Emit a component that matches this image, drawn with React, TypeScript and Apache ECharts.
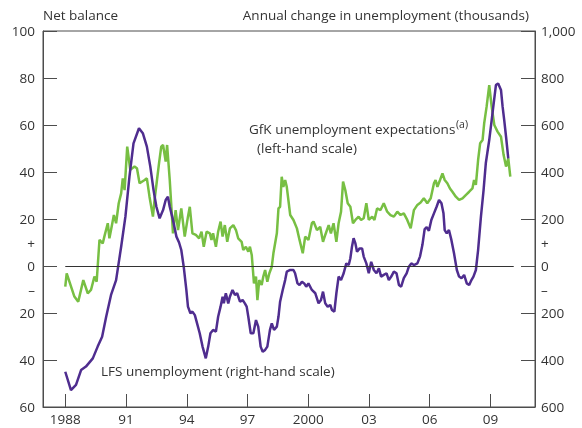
import React, { useEffect, useRef } from "react";
import * as echarts from "echarts";

// GfK unemployment expectations (net balance, left-hand scale)
const gfkYears = [
  1988.0, 1988.07, 1988.45, 1988.64, 1988.89, 1989.11, 1989.27, 1989.44, 1989.55, 1989.69, 1989.85, 1989.93,
  1990.1, 1990.18, 1990.26, 1990.4, 1990.51, 1990.64, 1990.76, 1990.84, 1990.93, 1991.06, 1991.21, 1991.42,
  1991.54, 1991.67, 1991.92, 1992.03, 1992.16, 1992.33, 1992.41, 1992.53, 1992.63, 1992.74, 1992.83, 1992.96,
  1993.03, 1993.16, 1993.32, 1993.45, 1993.57, 1993.73, 1993.9, 1994.06, 1994.15, 1994.28, 1994.45, 1994.61,
  1994.73, 1994.84, 1994.98, 1995.14, 1995.22, 1995.3, 1995.44, 1995.55, 1995.67, 1995.77, 1995.88, 1996.0,
  1996.13, 1996.3, 1996.43, 1996.54, 1996.71, 1996.79, 1996.92, 1997.04, 1997.12, 1997.21, 1997.32, 1997.42,
  1997.49, 1997.58, 1997.7, 1997.78, 1997.87, 1997.98, 1998.08, 1998.2, 1998.28, 1998.45, 1998.53, 1998.61,
  1998.69, 1998.77, 1998.86, 1998.94, 1999.11, 1999.27, 1999.44, 1999.57, 1999.73, 1999.85, 2000.01, 2000.18,
  2000.26, 2000.43, 2000.59, 2000.73, 2000.84, 2001.01, 2001.12, 2001.25, 2001.39, 2001.5, 2001.62, 2001.72,
  2001.83, 2001.95, 2002.08, 2002.21, 2002.33, 2002.49, 2002.61, 2002.74, 2002.87, 2002.99, 2003.16, 2003.27,
  2003.4, 2003.57, 2003.73, 2003.9, 2004.06, 2004.23, 2004.4, 2004.56, 2004.72, 2004.89, 2005.06, 2005.22,
  2005.39, 2005.55, 2005.71, 2005.88, 2006.05, 2006.21, 2006.29, 2006.38, 2006.51, 2006.63, 2006.74, 2006.87,
  2007.0, 2007.12, 2007.29, 2007.45, 2007.62, 2007.78, 2007.95, 2008.11, 2008.19, 2008.28, 2008.39, 2008.49,
  2008.61, 2008.69, 2008.81, 2008.94, 2009.06, 2009.19, 2009.35, 2009.52, 2009.65, 2009.77, 2009.88, 2009.98,
];
const gfkValues = [
  -8.8, -3.1, -13.0, -15.2, -6.0, -11.6, -10.2, -4.5, -6.7, 11.1, 9.6, 12.5,
  18.2, 11.8, 15.3, 21.7, 18.2, 26.7, 30.9, 37.3, 32.3, 50.8, 40.9, 42.3,
  41.6, 35.2, 36.6, 37.3, 29.5, 21.0, 28.1, 36.6, 43.7, 50.8, 51.5, 44.4,
  51.5, 36.6, 13.9, 23.8, 15.3, 24.5, 12.5, 21.0, 25.2, 13.9, 13.2, 11.8,
  14.6, 8.2, 14.6, 13.9, 11.1, 13.9, 8.2, 14.6, 18.9, 12.5, 17.4, 10.3,
  16.0, 17.4, 15.3, 11.8, 10.3, 6.8, 8.2, 6.1, 8.2, 4.7, -7.4, -4.5,
  -14.5, -6.0, -8.1, -4.5, -1.7, -6.7, -3.1, -0.3, 5.4, 13.9, 24.5, 25.2,
  38.0, 33.7, 36.6, 33.7, 21.7, 19.6, 16.0, 11.1, 5.4, 12.5, 11.1, 18.2,
  18.9, 15.3, 16.7, 10.3, 13.2, 17.4, 13.9, 18.2, 10.3, 18.2, 23.1, 35.9,
  32.3, 26.7, 25.2, 18.2, 19.6, 21.0, 19.6, 20.3, 26.7, 19.6, 21.0, 19.6,
  24.5, 23.8, 26.7, 23.1, 21.7, 21.0, 23.1, 21.7, 22.4, 19.6, 16.0, 23.8,
  26.0, 27.0, 28.8, 26.7, 28.8, 35.2, 36.6, 33.7, 36.6, 39.4, 36.6, 35.2,
  33.0, 31.6, 29.5, 28.1, 28.8, 30.2, 31.6, 33.0, 36.6, 34.5, 45.1, 52.2,
  53.6, 60.7, 67.8, 77.0, 67.8, 60.0, 57.2, 55.0, 47.2, 42.3, 45.8, 38.0,
];

// LFS unemployment, annual change in thousands (right-hand scale)
const lfsYears = [
  1988.0, 1988.28, 1988.53, 1988.78, 1989.02, 1989.36, 1989.6, 1989.82, 1990.02, 1990.26, 1990.51, 1990.76,
  1990.97, 1991.17, 1991.37, 1991.64, 1991.83, 1992.03, 1992.2, 1992.36, 1992.5, 1992.66, 1992.83, 1992.96,
  1993.07, 1993.16, 1993.32, 1993.49, 1993.62, 1993.73, 1993.85, 1993.98, 1994.06, 1994.18, 1994.28, 1994.4,
  1994.51, 1994.64, 1994.78, 1994.94, 1995.06, 1995.17, 1995.3, 1995.44, 1995.55, 1995.67, 1995.77, 1995.83,
  1995.93, 1996.05, 1996.13, 1996.26, 1996.38, 1996.49, 1996.63, 1996.76, 1996.87, 1996.96, 1997.04, 1997.16,
  1997.29, 1997.42, 1997.53, 1997.65, 1997.75, 1997.87, 1997.98, 1998.11, 1998.2, 1998.31, 1998.45, 1998.53,
  1998.61, 1998.74, 1998.86, 1998.94, 1999.11, 1999.27, 1999.35, 1999.47, 1999.57, 1999.69, 1999.8, 1999.9,
  2000.01, 2000.18, 2000.35, 2000.51, 2000.63, 2000.73, 2000.84, 2000.96, 2001.09, 2001.17, 2001.29, 2001.39,
  2001.5, 2001.62, 2001.75, 2001.88, 2002.0, 2002.08, 2002.16, 2002.24, 2002.33, 2002.41, 2002.54, 2002.66,
  2002.74, 2002.87, 2002.99, 2003.11, 2003.24, 2003.37, 2003.49, 2003.6, 2003.73, 2003.87, 2003.98, 2004.1,
  2004.23, 2004.36, 2004.48, 2004.59, 2004.72, 2004.86, 2004.97, 2005.09, 2005.22, 2005.39, 2005.52, 2005.64,
  2005.75, 2005.85, 2005.96, 2006.08, 2006.21, 2006.34, 2006.46, 2006.58, 2006.68, 2006.74, 2006.84, 2006.95,
  2007.07, 2007.2, 2007.34, 2007.45, 2007.57, 2007.7, 2007.83, 2007.95, 2008.06, 2008.16, 2008.28, 2008.39,
  2008.53, 2008.66, 2008.77, 2008.94, 2009.06, 2009.16, 2009.27, 2009.38, 2009.52, 2009.6, 2009.68, 2009.77,
  2009.88,
];
const lfsValues = [
  -450, -528, -506, -443, -428, -393, -343, -301, -216, -123, -60, 82,
  210, 380, 522, 586, 565, 508, 423, 323, 252, 203, 238, 281,
  295, 252, 196, 125, 100, 68, -3, -102, -173, -201, -194, -209,
  -244, -286, -343, -393, -343, -286, -272, -279, -216, -173, -131, -159,
  -116, -159, -131, -102, -123, -116, -152, -145, -159, -173, -216, -286,
  -286, -230, -258, -343, -365, -357, -343, -272, -244, -272, -258, -216,
  -152, -102, -60, -24, -17, -17, -31, -74, -81, -67, -74, -88,
  -74, -102, -116, -159, -145, -109, -159, -173, -166, -187, -194, -116,
  -45, -60, -31, 11, 4, 33, 82, 118, 96, 61, 75, 75,
  40, 11, -31, 18, -17, -31, -10, -45, -38, -31, -60, -45,
  -24, -31, -81, -88, -52, -31, -3, 11, 4, 11, 40, 90,
  157, 165, 150, 196, 224, 252, 281, 267, 224, 153, 139, 153,
  111, 54, -17, -45, -52, -38, -74, -81, -60, -45, -17, 68,
  210, 323, 437, 536, 621, 692, 770, 777, 749, 678, 621, 550,
  458,
];

const xTickYears = [1988, 1991, 1994, 1997, 2000, 2003, 2006, 2009];
const xTickLabels = ["1988", "91", "94", "97", "2000", "03", "06", "09"];
const leftTickValues = [-60, -40, -20, 0, 20, 40, 60, 80, 100];
const leftLabelValues = [-60, -40, -20, -10, 0, 10, 20, 40, 60, 80, 100];
const rightTickValues = [-600, -400, -200, 0, 200, 400, 600, 800, 1000];
const rightLabelValues = [-600, -400, -200, -100, 0, 100, 200, 400, 600, 800, 1000];

const FONT = "'Open Sans', 'Noto Sans', sans-serif";
const FS = 13.5;
const TEXT = "#333333";
const AXIS = "#4d4d4d";
const GREEN = "#77bf43";
const PURPLE = "#4f2d8f";

function signLabel(v: number, plusAt: number): string {
  if (v === plusAt) return "+";
  if (v === -plusAt) return "\u2013";
  const a = Math.abs(v);
  return a >= 1000 ? a.toLocaleString("en-GB") : String(a);
}

export default function App() {
  const ref = useRef<HTMLDivElement>(null);
  useEffect(() => {
    if (!ref.current) return;
    const chart = echarts.init(ref.current, undefined, { renderer: "svg" });
    const gfk = gfkYears.map((y, i) => [y, gfkValues[i]]);
    const lfs = lfsYears.map((y, i) => [y, lfsValues[i]]);
    chart.setOption({
      animation: false,
      grid: {
        left: 43,
        right: 47,
        top: 31,
        bottom: 21,
        show: true,
        borderColor: AXIS,
        borderWidth: 1,
        containLabel: false,
      },
      xAxis: {
        type: "value",
        min: 1986.9,
        max: 2011.2,
        axisLine: { show: true, onZero: false, lineStyle: { color: AXIS } },
        axisTick: { show: true, inside: true, length: 13, customValues: xTickYears, lineStyle: { color: AXIS } },
        axisLabel: {
          customValues: xTickYears,
          margin: 5,
          color: TEXT,
          fontFamily: FONT,
          fontSize: FS,
          lineHeight: 14,
          formatter: (v: number) => xTickLabels[xTickYears.indexOf(Math.round(v))] ?? "",
        },
        splitLine: { show: false },
      },
      yAxis: [
        {
          type: "value",
          position: "left",
          min: -60,
          max: 100,
          interval: 20,
          axisLine: { show: true, onZero: false, lineStyle: { color: AXIS } },
          axisTick: { show: true, inside: true, length: 14, customValues: leftTickValues, lineStyle: { color: AXIS } },
          axisLabel: {
            customValues: leftLabelValues,
            margin: 8,
            color: TEXT,
            fontFamily: FONT,
            fontSize: FS,
            formatter: (v: number) => signLabel(v, 10),
          },
          splitLine: { show: false },
        },
        {
          type: "value",
          position: "right",
          min: -600,
          max: 1000,
          interval: 200,
          axisLine: { show: true, onZero: false, lineStyle: { color: AXIS } },
          axisTick: { show: true, inside: true, length: 14, customValues: rightTickValues, lineStyle: { color: AXIS } },
          axisLabel: {
            customValues: rightLabelValues,
            margin: 6,
            color: TEXT,
            fontFamily: FONT,
            fontSize: FS,
            formatter: (v: number) => signLabel(v, 100),
          },
          splitLine: { show: false },
        },
      ],
      graphic: [
        { type: "text", x: 43, y: 15, style: { text: "Net balance", fill: TEXT, font: `${FS}px ${FONT}`, textAlign: "left", textVerticalAlign: "middle" } },
        { type: "text", x: 529, y: 15, style: { text: "Annual change in unemployment (thousands)", fill: TEXT, font: `${FS}px ${FONT}`, textAlign: "right", textVerticalAlign: "middle" } },
        { type: "text", x: 249, y: 129, style: { text: "GfK unemployment expectations", fill: TEXT, font: `${FS}px ${FONT}`, textAlign: "left", textVerticalAlign: "middle" } },
        { type: "text", x: 456, y: 124, style: { text: "(a)", fill: TEXT, font: `10.5px ${FONT}`, textAlign: "left", textVerticalAlign: "middle" } },
        { type: "text", x: 257, y: 148, style: { text: "(left-hand scale)", fill: TEXT, font: `${FS}px ${FONT}`, textAlign: "left", textVerticalAlign: "middle" } },
        { type: "text", x: 101, y: 371, style: { text: "LFS unemployment (right-hand scale)", fill: TEXT, font: `${FS}px ${FONT}`, textAlign: "left", textVerticalAlign: "middle" } },
      ],
      series: [
        {
          type: "line",
          name: "GfK",
          data: gfk,
          yAxisIndex: 0,
          showSymbol: false,
          symbol: "none",
          lineStyle: { color: GREEN, width: 2.5 },
          z: 3,
          markLine: {
            silent: true,
            symbol: "none",
            label: { show: false },
            lineStyle: { color: "#333", width: 1, type: "solid" },
            data: [[{ coord: [1988, 0] }, { coord: [2010.15, 0] }]],
          },
        },
        {
          type: "line",
          name: "LFS",
          data: lfs,
          yAxisIndex: 1,
          showSymbol: false,
          symbol: "none",
          lineStyle: { color: PURPLE, width: 2.5 },
          z: 4,
        },
      ],
    });
    return () => chart.dispose();
  }, []);
  return <div ref={ref} style={{ position: "fixed", left: 0, top: 0, width: 582, height: 428 }} />;
}
